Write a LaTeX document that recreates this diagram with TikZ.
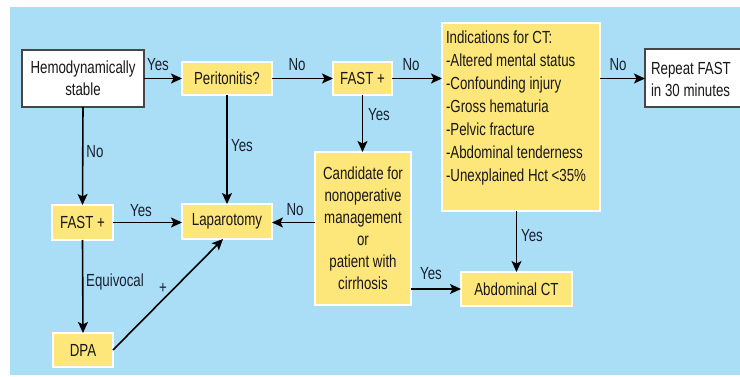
\documentclass[tikz,border=0pt]{standalone}
\usepackage{fontspec}
\setmainfont{Liberation Sans}[FakeStretch=0.76]
\usetikzlibrary{arrows.meta}
\definecolor{bgblue}{RGB}{170,222,246}
\definecolor{boxyellow}{RGB}{253,230,122}
\definecolor{txt}{RGB}{25,23,25}
\definecolor{lbltxt}{RGB}{25,32,48}
\definecolor{wborder}{RGB}{70,70,72}
\tikzset{
  box/.style={inner sep=0pt, outer sep=0pt, text=txt, font=\fontsize{17.5}{22}\selectfont, align=center},
  ybox/.style={box, fill=boxyellow, draw=white, line width=1.3pt},
  wbox/.style={box, fill=white, draw=wborder, line width=1.3pt},
  arr/.style={draw=black, line width=1.6pt, -{Stealth[length=11pt,width=10pt,inset=2.5pt]}},
  lbl/.style={text=lbltxt, font=\fontsize{17.5}{20}\selectfont, inner sep=0pt}
}
\begin{document}
\begin{tikzpicture}[x=1pt,y=-1pt]
\useasboundingbox (0,0) rectangle (740,377);
\fill[white] (0,0) rectangle (740,377);
\fill[bgblue] (10,7) rectangle (741,375);

% nodes
\node[wbox, minimum width=122pt, minimum height=57pt] (hemo) at (83,78.5) {Hemodynamically\\stable};
\node[ybox, minimum width=90pt, minimum height=33pt] (perit) at (227,78.5) {Peritonitis?};
\node[ybox, minimum width=59pt, minimum height=33pt] (fast1) at (362.5,78.5) {FAST +};
\node[ybox, minimum width=158pt, minimum height=188pt] (ind) at (521,117) {};
\node[box, align=left, anchor=north west, font=\fontsize{17.5}{23}\selectfont] (indtxt) at (446,31)
  {Indications for CT:\\-Altered mental status\\-Confounding injury\\-Gross hematuria\\-Pelvic fracture\\-Abdominal tenderness\\-Unexplained Hct <35\%};
\node[wbox, minimum width=100pt, minimum height=58pt] (rep) at (695,78) {};
\node[box, align=left, anchor=west] (reptxt) at (651,79) {Repeat FAST\\in 30 minutes};
\node[ybox, minimum width=96pt, minimum height=153pt] (cand) at (363,228.5)
  {Candidate for\\nonoperative\\management\\or\\patient with\\cirrhosis};
\node[ybox, minimum width=90pt, minimum height=35pt] (lap) at (227,221.5) {Laparotomy};
\node[ybox, minimum width=61pt, minimum height=35pt] (fast2) at (82.5,222.5) {FAST +};
\node[ybox, minimum width=60pt, minimum height=34pt] (dpa) at (83,350) {DPA};
\node[ybox, minimum width=111pt, minimum height=34pt] (act) at (516.5,289) {Abdominal CT};

% connectors
\draw[arr] (hemo.east) -- (perit.west) node[lbl] at (158,65) {Yes};
\draw[arr] (perit.east) -- (fast1.west) node[lbl] at (297,65) {No};
\draw[arr] (fast1.east) -- (ind.west |- fast1.east) node[lbl] at (411,65) {No};
\draw[arr] (ind.east |- fast1.east) -- (rep.west |- fast1.east) node[lbl] at (618,65) {No};
\draw[arr] (fast1.south) -- (fast1.south |- cand.north) node[lbl] at (379,115) {Yes};
\draw[arr] (perit.south) -- (lap.north) node[lbl] at (242,146) {Yes};
\draw[arr] (hemo.south) -- (fast2.north) node[lbl] at (95,152) {No};
\draw[arr] (fast2.east) -- (lap.west |- fast2.east) node[lbl] at (141,211) {Yes};
\draw[arr] (cand.west |- fast2.east) -- (lap.east |- fast2.east) node[lbl] at (295,210) {No};
\draw[arr] (ind.south -| act.north) -- (act.north) node[lbl] at (532,236) {Yes};
\draw[arr] (cand.east |- act.west) -- (act.west) node[lbl] at (431,274) {Yes};
\draw[arr] (fast2.south) -- (dpa.north) node[lbl] at (115,282) {Equivocal};
\draw[arr] (dpa.east) -- ([xshift=-4pt]lap.south) node[lbl] at (163,288) {+};
\end{tikzpicture}
\end{document}
